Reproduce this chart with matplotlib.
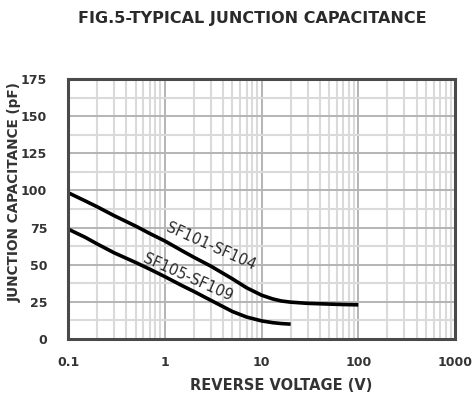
import matplotlib.pyplot as plt
from matplotlib.ticker import FixedLocator, MultipleLocator, LogLocator, NullFormatter

volts_a = [0.1, 0.15, 0.2, 0.3, 0.5, 0.7, 1, 1.5, 2, 3, 5, 7, 10, 13, 16, 20, 30, 50, 70, 100]
cap_a = [98.5, 93, 89, 83, 76, 71, 66, 59.5, 55, 49, 40.5, 34.5, 29.5, 27, 25.6, 24.8, 24, 23.5, 23.2, 23]
volts_b = [0.1, 0.15, 0.2, 0.3, 0.5, 0.7, 1, 1.5, 2, 3, 5, 7, 10, 13, 16, 20]
cap_b = [74, 68.5, 64, 58, 51.5, 47, 42, 36, 32, 26, 18.5, 14.8, 12.2, 11, 10.4, 10]

x_ticks = [0.1, 1, 10, 100, 1000]
x_labels = ['0.1', '1', '10', '100', '1000']
y_ticks = [0, 25, 50, 75, 100, 125, 150, 175]

plt.rcParams['font.family'] = ['DejaVu Sans']

fig = plt.figure(figsize=(4.73, 4.0), dpi=100)
ax = fig.add_axes([0.1438, 0.1525, 0.8182, 0.65])

ax.set_xscale('log')
ax.set_xlim(0.1, 1000)
ax.set_ylim(0, 175)

ax.xaxis.set_major_locator(FixedLocator(x_ticks))
ax.set_xticklabels(x_labels)
ax.xaxis.set_minor_locator(LogLocator(base=10, subs=range(2, 10)))
ax.xaxis.set_minor_formatter(NullFormatter())
ax.yaxis.set_major_locator(FixedLocator(y_ticks))
ax.yaxis.set_minor_locator(MultipleLocator(12.5))

ax.grid(which='major', color='#b4b4b4', linewidth=1.4)
ax.grid(which='minor', color='#dadada', linewidth=1.5)
ax.set_axisbelow(True)

ax.plot(volts_a, cap_a, color='black', linewidth=2.6, solid_capstyle='butt')
ax.plot(volts_b, cap_b, color='black', linewidth=2.6, solid_capstyle='butt')

ax.text(3.0, 62, 'SF101-SF104', rotation=-24, ha='center', va='center',
        fontsize=10.5, color='#2a2a2a')
ax.text(1.75, 41.5, 'SF105-SF109', rotation=-24, ha='center', va='center',
        fontsize=10.5, color='#2a2a2a')

for s in ax.spines.values():
    s.set_color('#4a4a4a')
    s.set_linewidth(2.2)

ax.tick_params(which='both', length=0, labelsize=9, colors='#333333')
ax.tick_params(axis='y', pad=15)
ax.tick_params(axis='x', pad=12)
for lab in ax.get_xticklabels() + ax.get_yticklabels():
    lab.set_fontweight('bold')

fig.text(0.594, 0.035, 'REVERSE VOLTAGE (V)', ha='center', va='center',
         fontsize=10.5, fontweight='bold', color='#333333')
fig.text(0.031, 0.52, 'JUNCTION CAPACITANCE (pF)', ha='center', va='center', rotation=90,
         fontsize=9.8, fontweight='bold', color='#333333')
fig.text(0.533, 0.955, 'FIG.5-TYPICAL JUNCTION CAPACITANCE', ha='center', va='center',
         fontsize=11.5, fontweight='bold', color='#2a2a2a')

fig.savefig('out.png', dpi=100)
